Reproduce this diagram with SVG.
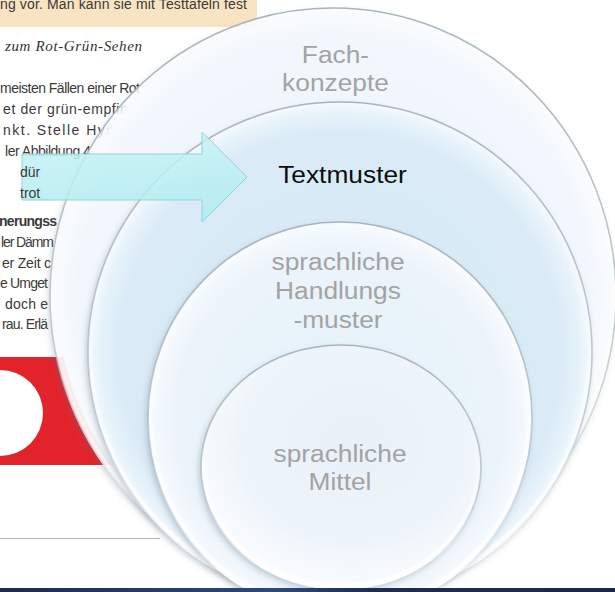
<svg xmlns="http://www.w3.org/2000/svg" width="615" height="592" viewBox="0 0 615 592">
  <style>
    .page { font-family: "Liberation Sans", Arial, sans-serif; font-size: 14px; fill: #3a3a3a; }
    .label { font-family: "Liberation Sans", Arial, sans-serif; font-size: 23.5px; fill: #a3a3a3; text-anchor: middle; }
    .dark { fill: #0d0d0d; }
    .rim { fill: none; stroke: url(#edge); stroke-width: 1.6; }
    .glow { fill: none; stroke: url(#glowStroke); stroke-width: 4; }
  </style>
  <defs>
    <radialGradient id="f1" cx="0.5" cy="0.5" r="0.5">
      <stop offset="0" stop-color="#eef6fc"/>
      <stop offset="0.9" stop-color="#f1f7fc"/>
      <stop offset="0.97" stop-color="#f8fbfe"/>
      <stop offset="1" stop-color="#ffffff" stop-opacity="0.7"/>
    </radialGradient>
    <radialGradient id="f2" cx="0.5" cy="0.5" r="0.5">
      <stop offset="0" stop-color="#d5e9f6"/>
      <stop offset="0.88" stop-color="#daebf7"/>
      <stop offset="0.96" stop-color="#e8f3fa"/>
      <stop offset="1" stop-color="#f6fafd"/>
    </radialGradient>
    <radialGradient id="f3" cx="0.5" cy="0.5" r="0.5">
      <stop offset="0" stop-color="#e6f1f9"/>
      <stop offset="0.85" stop-color="#ebf4fb"/>
      <stop offset="0.95" stop-color="#f3f8fc"/>
      <stop offset="1" stop-color="#fbfdfe"/>
    </radialGradient>
    <radialGradient id="f4" cx="0.55" cy="0.4" r="0.6">
      <stop offset="0" stop-color="#e8f1f8"/>
      <stop offset="0.7" stop-color="#eef5fa"/>
      <stop offset="1" stop-color="#fafcfd"/>
    </radialGradient>
    <linearGradient id="edge" x1="0" y1="0" x2="0" y2="1">
      <stop offset="0" stop-color="#a4b1ba" stop-opacity="0.95"/>
      <stop offset="0.6" stop-color="#aebbc3" stop-opacity="0.7"/>
      <stop offset="0.92" stop-color="#ffffff" stop-opacity="0.9"/>
    </linearGradient>
    <linearGradient id="glowStroke" x1="0" y1="0" x2="0" y2="1">
      <stop offset="0.3" stop-color="#ffffff" stop-opacity="0"/>
      <stop offset="1" stop-color="#ffffff" stop-opacity="0.95"/>
    </linearGradient>
    <linearGradient id="arrowFill" x1="0" y1="0" x2="0" y2="1">
      <stop offset="0" stop-color="#c6f3f6"/>
      <stop offset="1" stop-color="#b0ebef"/>
    </linearGradient>
    <linearGradient id="navy" x1="0" y1="0" x2="1" y2="0">
      <stop offset="0" stop-color="#1b2a4c"/>
      <stop offset="0.45" stop-color="#2d4a7a"/>
      <stop offset="0.6" stop-color="#1d2d50"/>
      <stop offset="1" stop-color="#1a2848"/>
    </linearGradient>
    <filter id="shadow" x="-10%" y="-10%" width="120%" height="125%">
      <feGaussianBlur in="SourceAlpha" stdDeviation="3"/>
      <feOffset dx="-2" dy="3" result="b"/>
      <feFlood flood-color="#5b7183" flood-opacity="0.35"/>
      <feComposite in2="b" operator="in"/>
      <feMerge><feMergeNode/><feMergeNode in="SourceGraphic"/></feMerge>
    </filter>
  </defs>

  <!-- textbook page behind the diagram -->
  <rect width="615" height="592" fill="#ffffff"/>
  <rect x="0" y="0" width="257" height="27" fill="#f8e4c2"/>
  <text class="page" x="0" y="9" textLength="247" lengthAdjust="spacing" fill="#4a4238">ng vor. Man kann sie mit Testtafeln fest</text>
  <text x="5" y="51" textLength="137" lengthAdjust="spacing" style="font-family:'Liberation Serif','Times New Roman',serif;font-style:italic;font-size:15px;fill:#333">zum Rot-Grün-Sehen</text>
  <text class="page" x="0" y="93" textLength="140" lengthAdjust="spacing">meisten Fällen einer Rot</text>
  <text class="page" x="3" y="114" textLength="137" lengthAdjust="spacing">et der grün-empfindl</text>
  <text class="page" x="3" y="135" textLength="135" lengthAdjust="spacing">nkt. Stelle Hypoth</text>
  <text class="page" x="5" y="156" textLength="86" lengthAdjust="spacing">ler Abbildung 4</text>
  <text class="page" x="-1" y="226" textLength="58" lengthAdjust="spacing" font-weight="bold">nerungss</text>
  <text class="page" x="1" y="247" textLength="53" lengthAdjust="spacing">ler Dämm</text>
  <text class="page" x="2" y="268" textLength="49" lengthAdjust="spacing">er Zeit c</text>
  <text class="page" x="0" y="288" textLength="48" lengthAdjust="spacing">e Umget</text>
  <text class="page" x="5" y="309" textLength="43" lengthAdjust="spacing">doch e</text>
  <text class="page" x="2" y="329" textLength="46" lengthAdjust="spacing">rau. Erlä</text>
  <rect x="0" y="357" width="200" height="108" fill="#e3232a"/>
  <circle cx="0" cy="413" r="43" fill="#ffffff"/>
  <line x1="0" y1="538.5" x2="160" y2="538.5" stroke="#b6b6b6" stroke-width="1"/>

  <!-- stacked circles, outermost first -->
  <g id="n-fachkonzepte">
    <ellipse cx="333" cy="296" rx="283" ry="288" fill="url(#f1)" filter="url(#shadow)"/>
    <ellipse class="glow" cx="333" cy="296" rx="280" ry="285"/>
    <ellipse class="rim" cx="333" cy="296" rx="283" ry="288"/>
    <text class="label" transform="translate(335.5 0) scale(1.12 1)"><tspan x="0" y="63">Fach-</tspan><tspan x="0" y="91">konzepte</tspan></text>
  </g>
  <g id="n-textmuster">
    <ellipse cx="340" cy="352" rx="252" ry="250" fill="url(#f2)" filter="url(#shadow)"/>
    <ellipse class="glow" cx="340" cy="352" rx="249" ry="247"/>
    <ellipse class="rim" cx="340" cy="352" rx="252" ry="250"/>
    <text class="label dark" transform="translate(342.5 183) scale(1.12 1)" x="0" y="0">Textmuster</text>
  </g>
  <g id="n-handlungsmuster">
    <ellipse cx="340" cy="418" rx="192" ry="196" fill="url(#f3)" filter="url(#shadow)"/>
    <ellipse class="glow" cx="340" cy="418" rx="189" ry="193"/>
    <ellipse class="rim" cx="340" cy="418" rx="192" ry="196"/>
    <text class="label" transform="translate(338 0) scale(1.12 1)"><tspan x="0" y="270">sprachliche</tspan><tspan x="0" y="299">Handlungs</tspan><tspan x="0" y="328">-muster</tspan></text>
  </g>
  <g id="n-mittel">
    <ellipse cx="341" cy="467" rx="140" ry="122" fill="url(#f4)" filter="url(#shadow)"/>
    <ellipse class="glow" cx="341" cy="467" rx="137" ry="119"/>
    <ellipse class="rim" cx="341" cy="467" rx="140" ry="122"/>
    <text class="label" transform="translate(340 0) scale(1.12 1)"><tspan x="0" y="462">sprachliche</tspan><tspan x="0" y="490">Mittel</tspan></text>
  </g>

  <!-- pointer arrow -->
  <g id="connectors">
    <path d="M22,154 H202 V132 L247,177 L202,222 V200 H22 Z" fill="url(#arrowFill)" fill-opacity="0.85" stroke="#93d3d9" stroke-width="1"/>
  </g>

  <!-- page words that show through the translucent arrow -->
  <text class="page" x="20" y="177" fill="#4a5557">dür</text>
  <text class="page" x="20" y="198" fill="#4a5557">trot</text>

  <rect x="0" y="588" width="615" height="4" fill="url(#navy)"/>
</svg>
